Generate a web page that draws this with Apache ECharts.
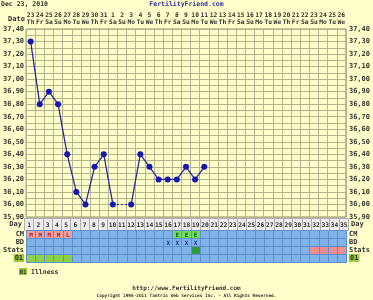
<!DOCTYPE html>
<html><head><meta charset="utf-8">
<script src="https://cdn.jsdelivr.net/npm/echarts@6/dist/echarts.min.js"></script>
<style>html,body{margin:0;padding:0;background:#ffffcc;}#c{width:373px;height:300px;}</style>
</head><body><div id="c"></div>
<script>
const dates = ['23','24','25','26','27','28','29','30','31','1','2','3','4','5','6','7','8','9','10','11','12','13','14','15','16','17','18','19','20','21','22','23','24','25','26'];
const weekdays = ['Th','Fr','Sa','Su','Mo','Tu','We','Th','Fr','Sa','Su','Mo','Tu','We','Th','Fr','Sa','Su','Mo','Tu','We','Th','Fr','Sa','Su','Mo','Tu','We','Th','Fr','Sa','Su','Mo','Tu','We'];
const dayNums = ['1','2','3','4','5','6','7','8','9','10','11','12','13','14','15','16','17','18','19','20','21','22','23','24','25','26','27','28','29','30','31','32','33','34','35'];
const temps = [37.30,36.80,36.90,36.80,36.40,36.10,36.00,36.30,36.40,36.00,null,36.00,36.40,36.30,36.20,36.20,36.20,36.30,36.20,36.30,null,null,null,null,null,null,null,null,null,null,null,null,null,null,null];
const cm = ['M','M','M','M','L','','','','','','','','','','','','E','E','E','','','','','','','','','','','','','','','',''];
const bd = ['','','','','','','','','','','','','','','','X','X','X','X','','','','','','','','','','','','','','','',''];
const stats = ['','','','','','','','','','','','','','','','','','','pk','','','','','','','','','','','','','hi','hi','hi','hi'];
const illness = [1,1,1,1,1,0,0,0,0,0,0,0,0,0,0,0,0,0,0,0,0,0,0,0,0,0,0,0,0,0,0,0,0,0,0];
const rowNames = ['CM','BD','Stats','01'];
const tempMin = 35.9, tempMax = 37.4, tempStep = 0.1;

const FONT = 'DejaVu Sans Mono';
const TXT = '#333333';
const BLUE = '#80b2ea', BLUE_BORDER = '#5f8fcc';

// dashed bridge across missing temperatures
const gapData = temps.map(() => null);
temps.forEach((v, i) => {
  if (v !== null) return;
  let j = i - 1; while (j >= 0 && temps[j] === null) j--;
  let k = i + 1; while (k < temps.length && temps[k] === null) k++;
  if (j >= 0 && k < temps.length) { gapData[j] = temps[j]; gapData[k] = temps[k]; }
});

const styles = {
  blank: {fill: BLUE, text: TXT},
  mens: {fill: '#e8a2a2', text: '#cc2020'},
  fert: {fill: '#74dc62', text: '#0f6a10'},
  bd: {fill: BLUE, text: '#20308a'},
  pk: {fill: '#2f9a3a', text: TXT},
  hi: {fill: '#e88e8e', text: TXT},
  ill: {fill: '#8fd04a', text: TXT},
  day: {fill: '#eeeeee', text: TXT}
};

const cells = [];
for (let c = 0; c < dayNums.length; c++) {
  cells.push({x: c, y: 0, kind: cm[c] ? (cm[c] === 'E' ? 'fert' : 'mens') : 'blank', text: cm[c]});
  cells.push({x: c, y: 1, kind: bd[c] ? 'bd' : 'blank', text: bd[c]});
  cells.push({x: c, y: 2, kind: stats[c] || 'blank', text: ''});
  cells.push({x: c, y: 3, kind: illness[c] ? 'ill' : 'blank', text: ''});
}
const dayCells = dayNums.map((d, c) => ({x: c, y: 0, kind: 'day', text: d}));

function cellRenderer(list, border, fontSize) {
  return function (params, api) {
    const cell = list[params.dataIndex];
    const p = api.coord([api.value(0), api.value(1)]);
    const s = api.size([1, 1]);
    const l = Math.round(p[0] - s[0] / 2), r = Math.round(p[0] + s[0] / 2);
    const t = Math.round(p[1] - s[1] / 2), b = Math.round(p[1] + s[1] / 2);
    const st = styles[cell.kind];
    const children = [{
      type: 'rect',
      shape: {x: l + 0.5, y: t + 0.5, width: r - l, height: b - t},
      style: {fill: st.fill, stroke: border, lineWidth: 1}
    }];
    if (cell.text) {
      children.push({
        type: 'text',
        style: {text: cell.text, x: p[0] + 0.5, y: p[1] + 1, align: 'center', verticalAlign: 'middle',
          fill: st.text, font: 'bold ' + fontSize + 'px ' + FONT}
      });
    }
    return {type: 'group', children};
  };
}

const labelFont = {fontFamily: FONT, fontWeight: 'bold', fontSize: 7, color: TXT};
const rowLabel = Object.assign({}, labelFont, {
  interval: 0,
  formatter: v => v === '01' ? '{g|01}' : v,
  rich: {g: {backgroundColor: '#99cc33', fontFamily: FONT, fontWeight: 'bold', fontSize: 7, color: TXT, padding: [1, 1, 0, 1]}}
});
const GL = 24, GW = 324;

const chart = echarts.init(document.getElementById('c'), null, {renderer: 'canvas'});
chart.setOption({
  animation: false,
  backgroundColor: '#ffffcc',
  title: [
    {text: 'Dec 23, 2010', left: 1, top: 1, padding: 0, textStyle: {fontFamily: FONT, fontWeight: 'bold', fontSize: 6.5, color: TXT}},
    {text: 'FertilityFriend.com', left: 'center', top: 1, padding: 0, textStyle: {fontFamily: FONT, fontWeight: 'bold', fontSize: 6.5, color: '#333399'}},
    {text: 'http://www.FertilityFriend.com', left: 'center', top: 285, padding: 0, textStyle: {fontFamily: FONT, fontWeight: 'bold', fontSize: 6, color: TXT}},
    {text: 'Copyright 1998-2011 Tamtris Web Services Inc. - All Rights Reserved.', left: 'center', top: 294, padding: 0, textStyle: {fontFamily: FONT, fontSize: 4.4, color: TXT}}
  ],
  graphic: [
    {type: 'text', left: 8, top: 16, style: {text: 'Date', font: 'bold 7px ' + FONT, fill: TXT}},
    {type: 'rect', shape: {x: 19, y: 268, width: 8, height: 7}, style: {fill: '#99cc33'}},
    {type: 'text', x: 23, y: 272, style: {text: '01', align: 'center', verticalAlign: 'middle', font: 'bold 6px ' + FONT, fill: TXT}},
    {type: 'text', x: 31, y: 272, style: {text: 'Illness', verticalAlign: 'middle', font: 'bold 6.5px ' + FONT, fill: TXT}}
  ],
  grid: [
    {left: GL, width: GW, top: 29, height: 188, show: true, backgroundColor: '#ffffcc', borderColor: '#8e8e70', borderWidth: 1},
    {left: GL, width: GW, top: 218, height: 12},
    {left: GL, width: GW, top: 230, height: 32}
  ],
  xAxis: [
    {gridIndex: 0, type: 'category', data: dates, position: 'bottom', boundaryGap: true,
      axisLine: {show: false}, axisTick: {show: false}, axisLabel: {show: false},
      splitLine: {show: true, interval: 0, lineStyle: {color: '#b4b48c', width: 1}}},
    {gridIndex: 0, type: 'category', data: dates, position: 'top', boundaryGap: true,
      axisLine: {show: false}, axisTick: {show: false},
      axisLabel: Object.assign({}, labelFont, {fontSize: 6.3, interval: 0, margin: 3, lineHeight: 7,
        formatter: (v, i) => v + '\n' + weekdays[i]})},
    {gridIndex: 1, type: 'category', data: dayNums, show: false},
    {gridIndex: 2, type: 'category', data: dayNums, show: false}
  ],
  yAxis: [
    {gridIndex: 0, type: 'value', min: tempMin, max: tempMax, interval: tempStep, position: 'left',
      axisLine: {show: false}, axisTick: {show: false},
      axisLabel: Object.assign({}, labelFont, {margin: 2, formatter: v => v.toFixed(2).replace('.', ',')}),
      splitLine: {show: true, lineStyle: {color: '#b4b48c', width: 1}},
      minorTick: {show: false, splitNumber: 2},
      minorSplitLine: {show: true, lineStyle: {color: '#b4b48c', width: 1}}},
    {gridIndex: 0, type: 'value', min: tempMin, max: tempMax, interval: tempStep, position: 'right',
      axisLine: {show: false}, axisTick: {show: false}, splitLine: {show: false},
      axisLabel: Object.assign({}, labelFont, {margin: 3, formatter: v => v.toFixed(2).replace('.', ',')})},
    {gridIndex: 1, type: 'category', data: ['Day'], position: 'left', axisLine: {show: false}, axisTick: {show: false},
      axisLabel: Object.assign({}, labelFont, {margin: 2, interval: 0})},
    {gridIndex: 1, type: 'category', data: ['Day'], position: 'right', axisLine: {show: false}, axisTick: {show: false},
      axisLabel: Object.assign({}, labelFont, {margin: 3, interval: 0})},
    {gridIndex: 2, type: 'category', data: rowNames, inverse: true, position: 'left', axisLine: {show: false}, axisTick: {show: false},
      axisLabel: Object.assign({}, rowLabel, {margin: 2})},
    {gridIndex: 2, type: 'category', data: rowNames, inverse: true, position: 'right', axisLine: {show: false}, axisTick: {show: false},
      axisLabel: Object.assign({}, rowLabel, {margin: 3})}
  ],
  series: [
    {type: 'line', xAxisIndex: 0, yAxisIndex: 0, data: gapData, connectNulls: true, showSymbol: false,
      lineStyle: {color: '#2a2a9a', width: 1, type: [2, 2]}, silent: true},
    {type: 'line', xAxisIndex: 0, yAxisIndex: 0, data: temps, connectNulls: false, symbol: 'circle', symbolSize: 6,
      lineStyle: {color: '#2a2a9a', width: 1.3}, itemStyle: {color: '#1616b0'}},
    {type: 'custom', xAxisIndex: 2, yAxisIndex: 2, data: dayCells.map(c => [c.x, c.y]),
      renderItem: cellRenderer(dayCells, '#b0b0b0', 6.3)},
    {type: 'custom', xAxisIndex: 3, yAxisIndex: 4, data: cells.map(c => [c.x, c.y]),
      renderItem: cellRenderer(cells, BLUE_BORDER, 6)}
  ]
});
</script></body></html>
